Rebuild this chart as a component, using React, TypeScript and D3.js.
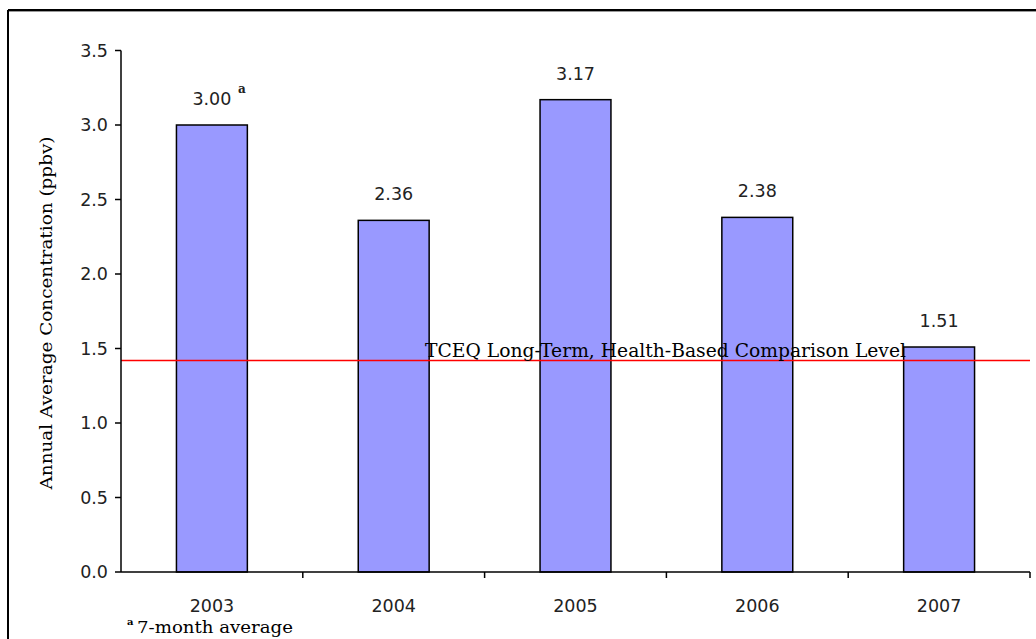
import React from "react";
import * as d3 from "d3";

const years = ["2003", "2004", "2005", "2006", "2007"];
const values = [3.0, 2.36, 3.17, 2.38, 1.51];
const valueLabels = ["3.00", "2.36", "3.17", "2.38", "1.51"];
const valueNotes = ["a", "", "", "", ""];
const yTicks = [0, 0.5, 1.0, 1.5, 2.0, 2.5, 3.0, 3.5];
const comparisonLevel = 1.42;
const comparisonLabel = "TCEQ Long-Term, Health-Based Comparison Level";
const yTitle = "Annual Average Concentration (ppbv)";
const footnote = "7-month average";

const W = 1036;
const H = 639;
const left = 121;
const right = 1030;
const top = 50.5;
const bottom = 572;

export default function App() {
  const x = d3.scaleBand<string>().domain(years).range([left, right]).paddingInner(0.61).paddingOuter(0.305);
  const y = d3.scaleLinear().domain([0, 3.5]).range([bottom, top]);
  const band = d3.scaleBand<string>().domain(years).range([left, right]);
  const sans = "'DejaVu Sans', Verdana, sans-serif";
  const serif = "'DejaVu Serif', serif";
  const boundaries = years.map((yr) => band(yr)! + band.bandwidth());
  return (
    <svg width={W} height={H} style={{ position: "absolute", left: 0, top: 0, background: "#fff" }}>
      <rect x={0} y={0} width={W} height={H} fill="#fff" />
      {/* frame */}
      <line x1={8} y1={10} x2={W} y2={10} stroke="#000" strokeWidth={2} />
      <line x1={8} y1={11.5} x2={W} y2={11.5} stroke="#999" strokeWidth={1} />
      <line x1={8} y1={10} x2={8} y2={H} stroke="#000" strokeWidth={2} />

      {/* bars */}
      {years.map((yr, i) => (
        <rect
          key={yr}
          x={x(yr)}
          y={y(values[i])}
          width={x.bandwidth()}
          height={bottom - y(values[i])}
          fill="#9999FF"
          stroke="#000"
          strokeWidth={1.5}
        />
      ))}

      {/* value labels */}
      {years.map((yr, i) => {
        const cx = x(yr)! + x.bandwidth() / 2;
        return (
          <g key={"l" + yr}>
            <text x={cx} y={y(values[i]) - 20} textAnchor="middle" fontFamily={sans} fontSize={17.5} fill="#222">
              {valueLabels[i]}
            </text>
            {valueNotes[i] && (
              <text x={cx + 26} y={y(values[i]) - 32} fontFamily={serif} fontSize={12} fontWeight="bold" fill="#222">
                {valueNotes[i]}
              </text>
            )}
          </g>
        );
      })}

      {/* comparison line */}
      <line x1={left} x2={right} y1={y(comparisonLevel)} y2={y(comparisonLevel)} stroke="#ff0000" strokeWidth={1.5} />
      <text
        x={425}
        y={y(comparisonLevel) - 3}
        fontFamily={serif}
        fontSize={18}
        fill="#000"
        textLength={481}
        lengthAdjust="spacingAndGlyphs"
      >
        {comparisonLabel}
      </text>

      {/* y axis */}
      <line x1={left} x2={left} y1={top} y2={bottom} stroke="#000" strokeWidth={1.5} />
      {yTicks.map((t) => (
        <g key={"t" + t}>
          <line x1={left - 6} x2={left} y1={y(t)} y2={y(t)} stroke="#000" strokeWidth={1.5} />
          <text x={left - 13} y={y(t) + 6} textAnchor="end" fontFamily={sans} fontSize={17.5} fill="#222">
            {d3.format(".1f")(t)}
          </text>
        </g>
      ))}

      {/* x axis */}
      <line x1={left} x2={right} y1={bottom} y2={bottom} stroke="#000" strokeWidth={1.5} />
      {boundaries.map((bx, i) => (
        <line key={"b" + i} x1={bx} x2={bx} y1={bottom} y2={bottom + 6} stroke="#000" strokeWidth={1.5} />
      ))}
      {years.map((yr) => (
        <text
          key={"x" + yr}
          x={band(yr)! + band.bandwidth() / 2}
          y={612}
          textAnchor="middle"
          fontFamily={sans}
          fontSize={17.5}
          fill="#222"
        >
          {yr}
        </text>
      ))}

      {/* y title */}
      <text
        transform={`translate(52, 313) rotate(-90)`}
        textAnchor="middle"
        fontFamily={serif}
        fontSize={16}
        fill="#000"
        textLength={353}
        lengthAdjust="spacingAndGlyphs"
      >
        {yTitle}
      </text>

      {/* footnote */}
      <text x={127} y={625} fontFamily={serif} fontSize={10} fontWeight="bold" fill="#000">a</text>
      <text x={137} y={633} fontFamily={serif} fontSize={17} fill="#000" textLength={156} lengthAdjust="spacingAndGlyphs">
        {footnote}
      </text>
    </svg>
  );
}
